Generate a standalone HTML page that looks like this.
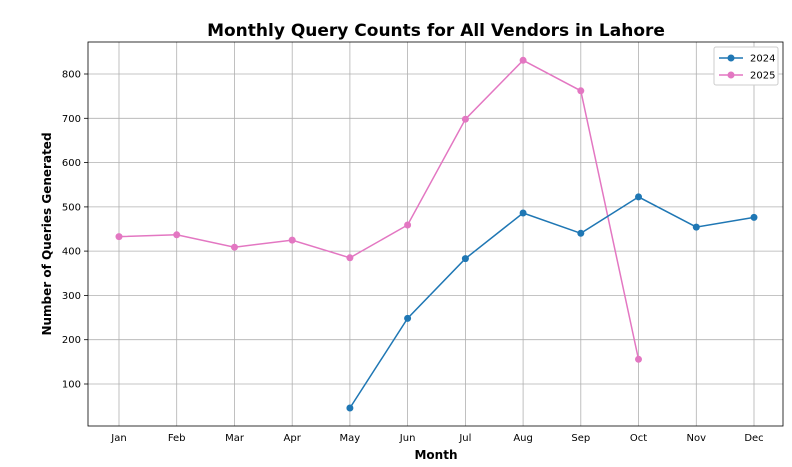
<!DOCTYPE html>
<html><head><style>
html,body{margin:0;padding:0;background:#fff;}
svg{display:block;font-family:"DejaVu Sans","Liberation Sans",sans-serif;}
</style></head><body>
<svg width="792" height="467" xmlns="http://www.w3.org/2000/svg">
<rect width="792" height="467" fill="#fff"/>
<text x="436" y="36" text-anchor="middle" font-size="17" font-weight="bold">Monthly Query Counts for All Vendors in Lahore</text>
<g stroke="#b0b0b0" stroke-width="0.8">
<line x1="119" y1="42" x2="119" y2="426"/><line x1="176.7" y1="42" x2="176.7" y2="426"/><line x1="234.5" y1="42" x2="234.5" y2="426"/><line x1="292.2" y1="42" x2="292.2" y2="426"/><line x1="349.9" y1="42" x2="349.9" y2="426"/><line x1="407.6" y1="42" x2="407.6" y2="426"/><line x1="465.4" y1="42" x2="465.4" y2="426"/><line x1="523.1" y1="42" x2="523.1" y2="426"/><line x1="580.8" y1="42" x2="580.8" y2="426"/><line x1="638.5" y1="42" x2="638.5" y2="426"/><line x1="696.3" y1="42" x2="696.3" y2="426"/><line x1="754" y1="42" x2="754" y2="426"/>
<line x1="88" y1="74" x2="783" y2="74"/><line x1="88" y1="118.3" x2="783" y2="118.3"/><line x1="88" y1="162.6" x2="783" y2="162.6"/><line x1="88" y1="206.9" x2="783" y2="206.9"/><line x1="88" y1="251.1" x2="783" y2="251.1"/><line x1="88" y1="295.4" x2="783" y2="295.4"/><line x1="88" y1="339.7" x2="783" y2="339.7"/><line x1="88" y1="384" x2="783" y2="384"/>
</g>
<rect x="88" y="42" width="695" height="384" fill="none" stroke="#000" stroke-width="0.8"/>
<g font-size="10" text-anchor="end">
<text x="81" y="77.5">800</text><text x="81" y="121.8">700</text><text x="81" y="166.1">600</text><text x="81" y="210.4">500</text><text x="81" y="254.6">400</text><text x="81" y="298.9">300</text><text x="81" y="343.2">200</text><text x="81" y="387.5">100</text>
</g>
<g stroke="#000" stroke-width="0.8">
<line x1="84" y1="74" x2="88" y2="74"/><line x1="84" y1="118.3" x2="88" y2="118.3"/><line x1="84" y1="162.6" x2="88" y2="162.6"/><line x1="84" y1="206.9" x2="88" y2="206.9"/><line x1="84" y1="251.1" x2="88" y2="251.1"/><line x1="84" y1="295.4" x2="88" y2="295.4"/><line x1="84" y1="339.7" x2="88" y2="339.7"/><line x1="84" y1="384" x2="88" y2="384"/>
</g>
<g font-size="10" text-anchor="middle">
<text x="119" y="441">Jan</text><text x="176.7" y="441">Feb</text><text x="234.5" y="441">Mar</text><text x="292.2" y="441">Apr</text><text x="349.9" y="441">May</text><text x="407.6" y="441">Jun</text><text x="465.4" y="441">Jul</text><text x="523.1" y="441">Aug</text><text x="580.8" y="441">Sep</text><text x="638.5" y="441">Oct</text><text x="696.3" y="441">Nov</text><text x="754" y="441">Dec</text>
</g>
<text x="436" y="459" text-anchor="middle" font-size="12" font-weight="bold">Month</text>
<text transform="translate(51,234) rotate(-90)" text-anchor="middle" font-size="12" font-weight="bold">Number of Queries Generated</text>
<polyline fill="none" stroke="#e377c2" stroke-width="1.5" points="119,236.6 176.7,234.8 234.5,247.2 292.2,240.1 349.9,257.8 407.6,225 465.4,119.2 523.1,60.3 580.8,90.8 638.5,359.3"/>
<g fill="#e377c2"><circle cx="119" cy="236.6" r="3.5"/><circle cx="176.7" cy="234.8" r="3.5"/><circle cx="234.5" cy="247.2" r="3.5"/><circle cx="292.2" cy="240.1" r="3.5"/><circle cx="349.9" cy="257.8" r="3.5"/><circle cx="407.6" cy="225" r="3.5"/><circle cx="465.4" cy="119.2" r="3.5"/><circle cx="523.1" cy="60.3" r="3.5"/><circle cx="580.8" cy="90.8" r="3.5"/><circle cx="638.5" cy="359.3" r="3.5"/></g>
<polyline fill="none" stroke="#1f77b4" stroke-width="1.5" points="349.9,408 407.6,318.4 465.4,258.6 523.1,213 580.8,233.3 638.5,196.9 696.3,227.1 754,217.4"/>
<g fill="#1f77b4"><circle cx="349.9" cy="408" r="3.5"/><circle cx="407.6" cy="318.4" r="3.5"/><circle cx="465.4" cy="258.6" r="3.5"/><circle cx="523.1" cy="213" r="3.5"/><circle cx="580.8" cy="233.3" r="3.5"/><circle cx="638.5" cy="196.9" r="3.5"/><circle cx="696.3" cy="227.1" r="3.5"/><circle cx="754" cy="217.4" r="3.5"/></g>
<rect x="714" y="47" width="64" height="38" fill="#fff" stroke="#ccc" rx="2"/>
<line x1="719" y1="58" x2="743" y2="58" stroke="#1f77b4" stroke-width="1.5"/><circle cx="731" cy="58" r="3.5" fill="#1f77b4"/>
<line x1="719" y1="75" x2="743" y2="75" stroke="#e377c2" stroke-width="1.5"/><circle cx="731" cy="75" r="3.5" fill="#e377c2"/>
<text x="750" y="61.5" font-size="10">2024</text><text x="750" y="78.5" font-size="10">2025</text>
</svg>
</body></html>
